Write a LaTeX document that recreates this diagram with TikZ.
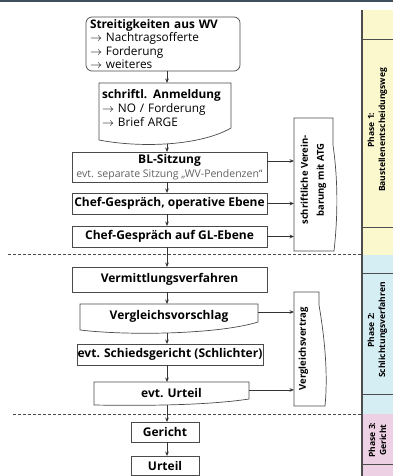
\documentclass[tikz,border=0pt]{standalone}
\usepackage{fontspec}
\setmainfont{Open Sans}
\usetikzlibrary{arrows.meta,calc}
\definecolor{edge}{HTML}{4A4A4A}
\definecolor{arrowc}{HTML}{333333}
\definecolor{topbar}{HTML}{3F505C}
\definecolor{phaseA}{HTML}{FBF8CE}
\definecolor{phaseB}{HTML}{D4EEF4}
\definecolor{phaseC}{HTML}{EED0E4}
\definecolor{phline}{HTML}{4D4D4D}
\definecolor{subtxt}{HTML}{606060}
\begin{document}
\begin{tikzpicture}[x=1pt,y=-1pt,
  every node/.style={inner sep=0pt,outer sep=0pt},
  bfont/.style={font=\fontsize{12}{13}\selectfont\bfseries},
  plain/.style={font=\fontsize{11.8}{13.6}\selectfont},
  flow/.style={bfont,draw=edge,line width=0.7pt,minimum height=21},
  doc/.style={draw=edge,line width=0.7pt},
  conn/.style={draw=arrowc,line width=0.8pt,-{Stealth[length=4.5pt,width=3.6pt]}},
  sep/.style={draw=edge,line width=0.8pt,dash pattern=on 3pt off 2pt},
  phlab/.style={rotate=90,align=center,font=\fontsize{8.5}{11}\selectfont\bfseries},
  sidelab/.style={rotate=90,align=center,font=\fontsize{9.5}{16}\selectfont\bfseries},
  ]
\useasboundingbox (0,0) rectangle (393,476);
\fill[topbar] (0,0) rectangle (393,2.5);

% phase column
\fill[phaseA] (362,10) rectangle (396,254.5);
\fill[phaseB] (362,254.5) rectangle (396,413.5);
\fill[phaseC] (362,413.5) rectangle (396,480);
\foreach \yy in {39,227,273.5,394,464}
  \draw[phline,line width=0.8pt] (362,\yy) -- (396,\yy);
\draw[phline,line width=1.4pt] (362,10) -- (362,480);
\node[phlab] (p1) at (377.5,130) {Phase 1:\\Baustellenentscheidungsweg};
\node[phlab] (p2) at (377.5,330) {Phase 2:\\Schlichtungsverfahren};
\node[phlab] (p3) at (377.5,440) {Phase 3:\\Gericht};

\coordinate (spine) at (167,0);

% phase 1 flow
\node[plain,draw=edge,line width=0.7pt,rounded corners=6pt,minimum width=154,
      minimum height=54,text width=146,align=left,inner xsep=4pt,anchor=north west]
  (n1) at (86,17)
  {{\bfseries Streitigkeiten aus WV}\\$\rightarrow$ Nachtragsofferte\\$\rightarrow$ Forderung\\$\rightarrow$ weiteres};

\node[plain,minimum width=132,minimum height=50,text width=126,align=left,
      inner xsep=3pt,anchor=north west] (n2) at (99,83)
  {{\bfseries schriftl. Anmeldung}\\$\rightarrow$ NO / Forderung\\$\rightarrow$ Brief ARGE};
\draw[doc] (99,83) -- (231,83) -- (231,128) .. controls (200,146) and (140,148) .. (99,140) -- cycle;
\coordinate (n2b) at (167,144);

\node[flow,minimum width=195,minimum height=30,align=center,anchor=north west]
  (n3) at (72,152)
  {BL-Sitzung\\[0.5pt]{\fontsize{10.5}{11}\selectfont\mdseries\color{subtxt}evt. separate Sitzung „WV-Pendenzen“}};
\node[flow,minimum width=195,anchor=north west] (n4) at (72,193) {Chef-Gespräch, operative Ebene};
\node[flow,minimum width=195,anchor=north west] (n5) at (72,226) {Chef-Gespräch auf GL-Ebene};

\node[minimum width=39,minimum height=133,anchor=north west] (sv) at (294,118) {};
\draw[doc] (294,118) -- (333,118) -- (333,145) .. controls (338,180) and (338,215) .. (334,251) -- (294,251) -- cycle;
\node[sidelab] (svt) at (313.5,180) {schriftliche Verein-\\barung mit ATG};

\coordinate (a3) at ($(n3.north east)!0.3!(n3.south east)$);
\draw[conn] (a3) -- (a3 -| sv.west);
\draw[conn] (n4.east) -- (n4.east -| sv.west);
\draw[conn] (n5.east) -- (n5.east -| sv.west);

\draw[conn] (n1.south -| spine) -- (n2.north -| spine);
\draw[conn] (n2b) -- (n3.north -| spine);
\draw[conn] (n3.south -| spine) -- (n4.north -| spine);
\draw[conn] (n4.south -| spine) -- (n5.north -| spine);

\draw[sep] (8,254.5) -- (362,254.5);

% phase 2 flow
\node[flow,minimum width=195,minimum height=25,anchor=north west] (n6) at (72,267) {Vermittlungsverfahren};
\node[bfont,minimum width=178,minimum height=25,anchor=north west] (n7) at (80,304) {Vergleichsvorschlag};
\draw[doc] (80,304) -- (258,304) -- (258,322) .. controls (220,334) and (130,336) .. (80,330) -- cycle;
\coordinate (n7b) at (167,333);
\node[flow,minimum width=186,anchor=north west] (n8) at (77,344) {evt. Schiedsgericht (Schlichter)};
\node[bfont,minimum width=155,minimum height=22,anchor=north west] (n9) at (94,382) {evt. Urteil};
\draw[doc] (94,382) -- (249,382) -- (249,399) .. controls (210,405) and (150,406) .. (94,405) -- cycle;
\coordinate (n9b) at (167,404.5);

\node[minimum width=28,minimum height=114,anchor=north west] (vv) at (294,292) {};
\draw[doc] (294,292) -- (319,292) -- (319,305) .. controls (325,340) and (328,375) .. (325,406) -- (294,406) -- cycle;
\node[sidelab] (vvt) at (303.5,349) {Vergleichsvertrag};

\coordinate (a7) at ($(n7.north east)!0.32!(n7.south east)$);
\draw[conn] (a7) -- (a7 -| vv.west);
\coordinate (a9) at ($(n9.north east)!0.36!(n9.south east)$);
\draw[conn] (a9) -- (a9 -| vv.west);

\draw[conn] (n5.south -| spine) -- (n6.north -| spine);
\draw[conn] (n6.south -| spine) -- (n7.north -| spine);
\draw[conn] (n7b) -- (n8.north -| spine);
\draw[conn] (n8.south -| spine) -- (n9.north -| spine);

\draw[sep] (13,414) -- (362,414);

% phase 3 flow
\node[flow,minimum width=68,minimum height=20,anchor=north west] (n10) at (131,422) {Gericht};
\node[flow,minimum width=68,minimum height=19,anchor=north west] (n11) at (131,456) {Urteil};
\draw[conn] (n9b) -- (n10.north -| spine);
\draw[conn] (n10.south -| spine) -- (n11.north -| spine);
\end{tikzpicture}
\end{document}
